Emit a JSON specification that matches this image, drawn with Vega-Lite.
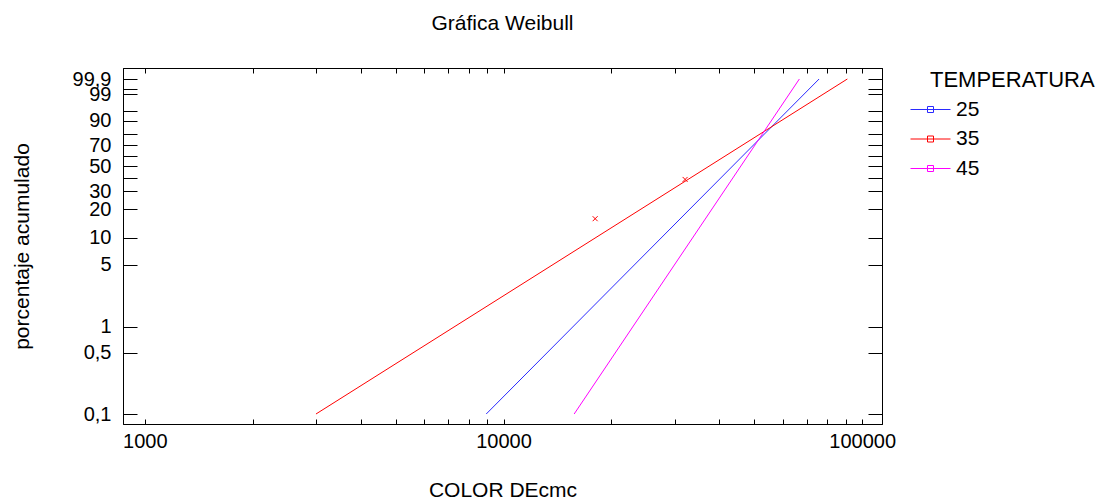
{
  "$schema": "https://vega.github.io/schema/vega-lite/v6.json",
  "width": 759,
  "height": 356,
  "autosize": {"type": "none"},
  "padding": {"left": 123, "top": 68, "right": 226, "bottom": 80},
  "background": "#ffffff",
  "title": {
    "text": "Gráfica Weibull",
    "font": "Liberation Sans",
    "fontSize": 21,
    "fontWeight": "normal",
    "color": "#000000",
    "anchor": "middle",
    "offset": 34
  },
  "config": {
    "font": "Liberation Sans",
    "view": {"stroke": "#000000", "strokeWidth": 1},
    "axis": {
      "grid": false,
      "domainColor": "#000000",
      "tickColor": "#000000",
      "labelColor": "#000000",
      "titleColor": "#000000",
      "labelFont": "Liberation Sans",
      "titleFont": "Liberation Sans",
      "labelFontSize": 20,
      "titleFontSize": 21,
      "titleFontWeight": "normal",
      "labelOverlap": false,
      "labelFlush": false,
      "labelBound": false
    }
  },
  "layer": [
    {
      "data": {
        "values": [
          {"temp": "25", "x": 8950, "p": 0.1},
          {"temp": "25", "x": 75850, "p": 99.9},
          {"temp": "35", "x": 3000, "p": 0.1},
          {"temp": "35", "x": 90920, "p": 99.9},
          {"temp": "45", "x": 15740, "p": 0.1},
          {"temp": "45", "x": 66830, "p": 99.9}
        ]
      },
      "transform": [{"calculate": "log(-log(1 - datum.p / 100))", "as": "w"}],
      "mark": {"type": "line", "strokeWidth": 1},
      "encoding": {
        "x": {
          "field": "x",
          "type": "quantitative",
          "scale": {"type": "log", "domain": [869, 113600], "nice": false},
          "axis": {
            "orient": "bottom",
            "title": "COLOR DEcmc",
            "values": [1000, 2000, 3000, 4000, 5000, 6000, 7000, 8000, 9000, 10000, 20000, 30000, 40000, 50000, 60000, 70000, 80000, 90000, 100000],
            "labelExpr": "indexof([1000, 10000, 100000], datum.value) >= 0 ? datum.value + '' : ''",
            "tickSize": -5,
            "labelPadding": 12,
            "titlePadding": 28
          }
        },
        "y": {
          "field": "w",
          "type": "quantitative",
          "scale": {"domain": [-7.171, 2.223], "nice": false, "zero": false},
          "axis": {
            "orient": "left",
            "title": "porcentaje acumulado",
            "values": [1.932645, 1.667394, 1.52718, 1.097189, 0.834032, 0.475885, 0.185627, -0.087422, -0.366513, -0.671727, -1.03093, -1.49994, -2.250367, -2.970195, -4.600149, -5.295812, -6.907255],
            "labelExpr": "indexof([99.5, 95, 80, 60, 40], round((1 - exp(-exp(datum.value))) * 1000) / 10) >= 0 ? '' : replace(round((1 - exp(-exp(datum.value))) * 1000) / 10 + '', '.', ',')",
            "tickSize": -14,
            "labelPadding": 26,
            "titlePadding": 40
          }
        },
        "color": {
          "field": "temp",
          "type": "nominal",
          "scale": {"domain": ["25", "35", "45"], "range": ["#2a2aff", "#ff0000", "#ff00ff"]},
          "legend": {
            "orient": "none",
            "legendX": 807,
            "legendY": 2,
            "title": "TEMPERATURA",
            "titleFont": "Liberation Sans",
            "titleFontSize": 22,
            "titleFontWeight": "normal",
            "titleColor": "#000000",
            "titleAnchor": "start",
            "titlePadding": 7,
            "labelFont": "Liberation Sans",
            "labelFontSize": 21,
            "labelColor": "#000000",
            "symbolType": "M-2,0H2M-0.3,-0.3H0.3V0.3H-0.3Z",
            "symbolSize": 400,
            "symbolStrokeWidth": 1,
            "symbolOffset": -10,
            "labelOffset": 15,
            "rowPadding": 7.5,
            "padding": 0
          }
        }
      }
    },
    {
      "data": {
        "values": [
          {"temp": "35", "x": 18010, "p": 15.9},
          {"temp": "35", "x": 32090, "p": 38.6}
        ]
      },
      "transform": [{"calculate": "log(-log(1 - datum.p / 100))", "as": "w"}],
      "mark": {"type": "point", "shape": "M-1,-1L1,1M-1,1L1,-1", "size": 25, "filled": false, "color": "#ff0000", "strokeWidth": 1, "opacity": 1},
      "encoding": {
        "x": {
          "field": "x",
          "type": "quantitative",
          "scale": {"type": "log", "domain": [869, 113600], "nice": false},
          "axis": {
            "orient": "top",
            "title": null,
            "labels": false,
            "values": [1000, 2000, 3000, 4000, 5000, 6000, 7000, 8000, 9000, 10000, 20000, 30000, 40000, 50000, 60000, 70000, 80000, 90000, 100000],
            "tickSize": -5
          }
        },
        "y": {
          "field": "w",
          "type": "quantitative",
          "scale": {"domain": [-7.171, 2.223], "nice": false, "zero": false},
          "axis": {
            "orient": "right",
            "title": null,
            "labels": false,
            "values": [1.932645, 1.667394, 1.52718, 1.097189, 0.834032, 0.475885, 0.185627, -0.087422, -0.366513, -0.671727, -1.03093, -1.49994, -2.250367, -2.970195, -4.600149, -5.295812, -6.907255],
            "tickSize": -14
          }
        }
      }
    }
  ],
  "resolve": {"axis": {"x": "independent", "y": "independent"}}
}
